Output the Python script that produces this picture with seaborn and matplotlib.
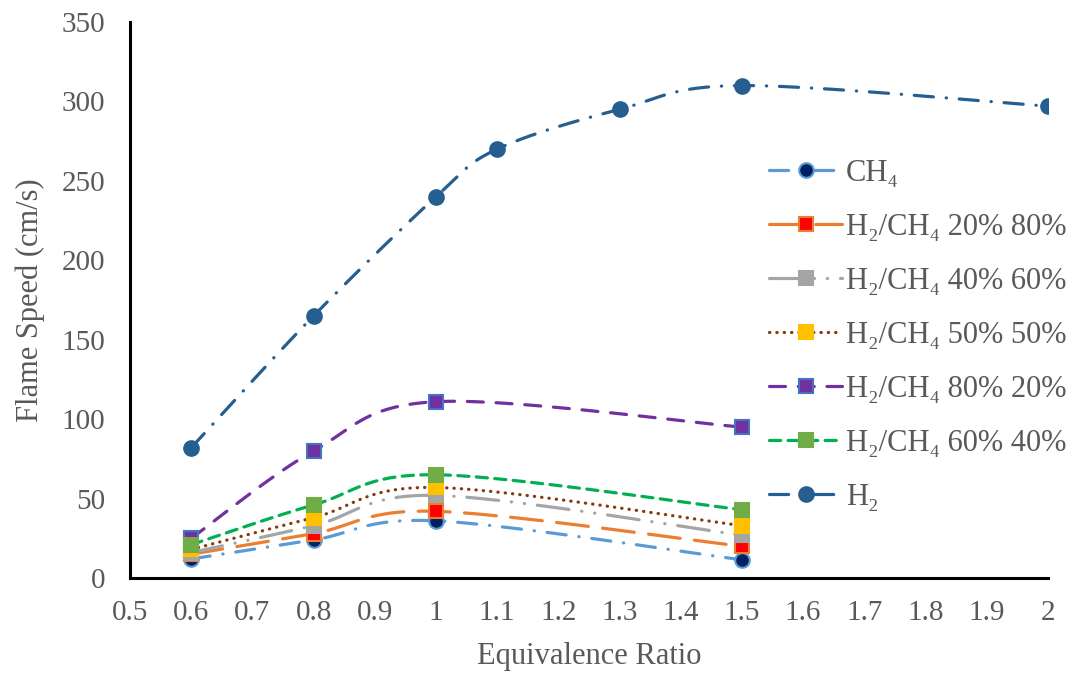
import numpy as np
import pandas as pd
import matplotlib
matplotlib.use("Agg")
import matplotlib.pyplot as plt
import seaborn as sns
from matplotlib.lines import Line2D

# ── Data ─────────────────────────────────────
phi_short = [0.6, 0.8, 1.0, 1.5]
phi_h2 = [0.6, 0.8, 1.0, 1.1, 1.3, 1.5, 2.0]

ch4 = [12, 24, 36, 11.5]
h2_20 = [15, 28, 42, 20]
h2_40 = [16, 33, 52, 27]
h2_50 = [18, 38, 57, 33]
h2_80 = [25, 80, 111, 95]
h2_60 = [21, 46, 65, 43]
h2 = [82, 165, 240, 270, 295, 310, 297]

labels = ["CH\u2084", "H\u2082/CH\u2084 20% 80%", "H\u2082/CH\u2084 40% 60%",
          "H\u2082/CH\u2084 50% 50%", "H\u2082/CH\u2084 80% 20%",
          "H\u2082/CH\u2084 60% 40%", "H\u2082"]

# ── Styles ───────────────────────────────────
series = [
    dict(x=phi_short, y=ch4, color="#5B9BD5", dash=(6, 4, 0.1, 4), marker="o", mfc="#002060", mec="#5B9BD5"),
    dict(x=phi_short, y=h2_20, color="#ED7D31", dash=(10, 4.5), marker="s", mfc="#FF0000", mec="#ED7D31"),
    dict(x=phi_short, y=h2_40, color="#A5A5A5", dash=(10, 4, 0.1, 4, 0.1, 4), marker="s", mfc="#A5A5A5", mec="#A5A5A5"),
    dict(x=phi_short, y=h2_50, color="#843C0C", dash=(0.1, 2.2), marker="s", mfc="#FFC000", mec="#FFC000"),
    dict(x=phi_short, y=h2_80, color="#7030A0", dash=(5, 4), marker="s", mfc="#7030A0", mec="#4472C4"),
    dict(x=phi_short, y=h2_60, color="#00B050", dash=(3.5, 2.3), marker="s", mfc="#70AD47", mec="#70AD47"),
    dict(x=phi_h2, y=h2, color="#255E91", dash=(6, 4, 0.1, 4), marker="o", mfc="#255E91", mec="#255E91"),
]

XMIN, XMAX, YMIN, YMAX = 0.5, 2.0, 0, 350
W_PX, H_PX = 918, 556


def smooth(xs, ys, n=40):
    """Excel-like smoothed line (Catmull-Rom Bezier in screen space)."""
    px = (np.asarray(xs) - XMIN) / (XMAX - XMIN) * W_PX
    py = (np.asarray(ys) - YMIN) / (YMAX - YMIN) * H_PX
    pts = np.column_stack([px, py])
    ext = np.vstack([pts[0], pts, pts[-1]])
    t = np.linspace(0, 1, n)[:, None]
    out = []
    for i in range(len(pts) - 1):
        p0, p1, p2, p3 = ext[i], ext[i + 1], ext[i + 2], ext[i + 3]
        b1 = p1 + (p2 - p0) / 6
        b2 = p2 - (p3 - p1) / 6
        seg = ((1 - t) ** 3) * p1 + 3 * ((1 - t) ** 2) * t * b1 + 3 * (1 - t) * t ** 2 * b2 + t ** 3 * p2
        out.append(seg if i == 0 else seg[1:])
    out = np.vstack(out)
    return out[:, 0] / W_PX * (XMAX - XMIN) + XMIN, out[:, 1] / H_PX * (YMAX - YMIN) + YMIN


sns.set_theme(style="white")
plt.rcParams["font.family"] = ["Liberation Serif", "DejaVu Serif"]
text_color = "#595959"

fig, ax = plt.subplots(figsize=(10.78, 6.77), dpi=100)
fig.subplots_adjust(left=0.1206, right=0.972, top=0.9675, bottom=0.1462)

lw = 2.3
ms = 10.5
handles = []
for s in series:
    sx, sy = smooth(s["x"], s["y"])
    df = pd.DataFrame({"x": sx, "y": sy})
    sns.lineplot(data=df, x="x", y="y", ax=ax, color=s["color"], linewidth=lw,
                 sort=False, estimator=None)
    line = ax.lines[-1]
    line.set_dashes(s["dash"])
    line.set_dash_capstyle("round")
    ax.plot(s["x"], s["y"], ls="none", marker=s["marker"], markersize=ms,
            markerfacecolor=s["mfc"], markeredgecolor=s["mec"], markeredgewidth=1.5)
    h = Line2D([], [], color=s["color"], linewidth=lw, dashes=s["dash"],
               dash_capstyle="round", marker=s["marker"], markersize=ms,
               markerfacecolor=s["mfc"], markeredgecolor=s["mec"], markeredgewidth=1.5)
    handles.append(h)

ax.set_xlim(XMIN, XMAX)
ax.set_ylim(YMIN, YMAX)
ax.set_xticks(np.arange(0.5, 2.01, 0.1))
ax.set_xticklabels(["0.5", "0.6", "0.7", "0.8", "0.9", "1", "1.1", "1.2", "1.3",
                    "1.4", "1.5", "1.6", "1.7", "1.8", "1.9", "2"])
ax.set_yticks(np.arange(0, 351, 50))

for side in ["top", "right"]:
    ax.spines[side].set_visible(False)
for side in ["left", "bottom"]:
    ax.spines[side].set_color("black")
    ax.spines[side].set_linewidth(2.2)

ax.tick_params(axis="both", direction="out", length=6, width=2.2, color="black",
               labelsize=21, labelcolor=text_color)
ax.tick_params(axis="x", pad=10)
ax.tick_params(axis="y", pad=12)
ax.set_xlabel("Equivalence Ratio", fontsize=22, color=text_color, labelpad=11)
ax.set_ylabel("Flame Speed (cm/s)", fontsize=22, color=text_color, labelpad=12)

leg = ax.legend(handles, labels, loc="upper left", bbox_to_anchor=(0.688, 0.806),
                bbox_transform=fig.transFigure, frameon=False, fontsize=22,
                handlelength=2.4, handletextpad=0.12, labelspacing=0.82)
for t in leg.get_texts():
    t.set_color(text_color)

plt.savefig("out.png", dpi=100)
plt.close()
